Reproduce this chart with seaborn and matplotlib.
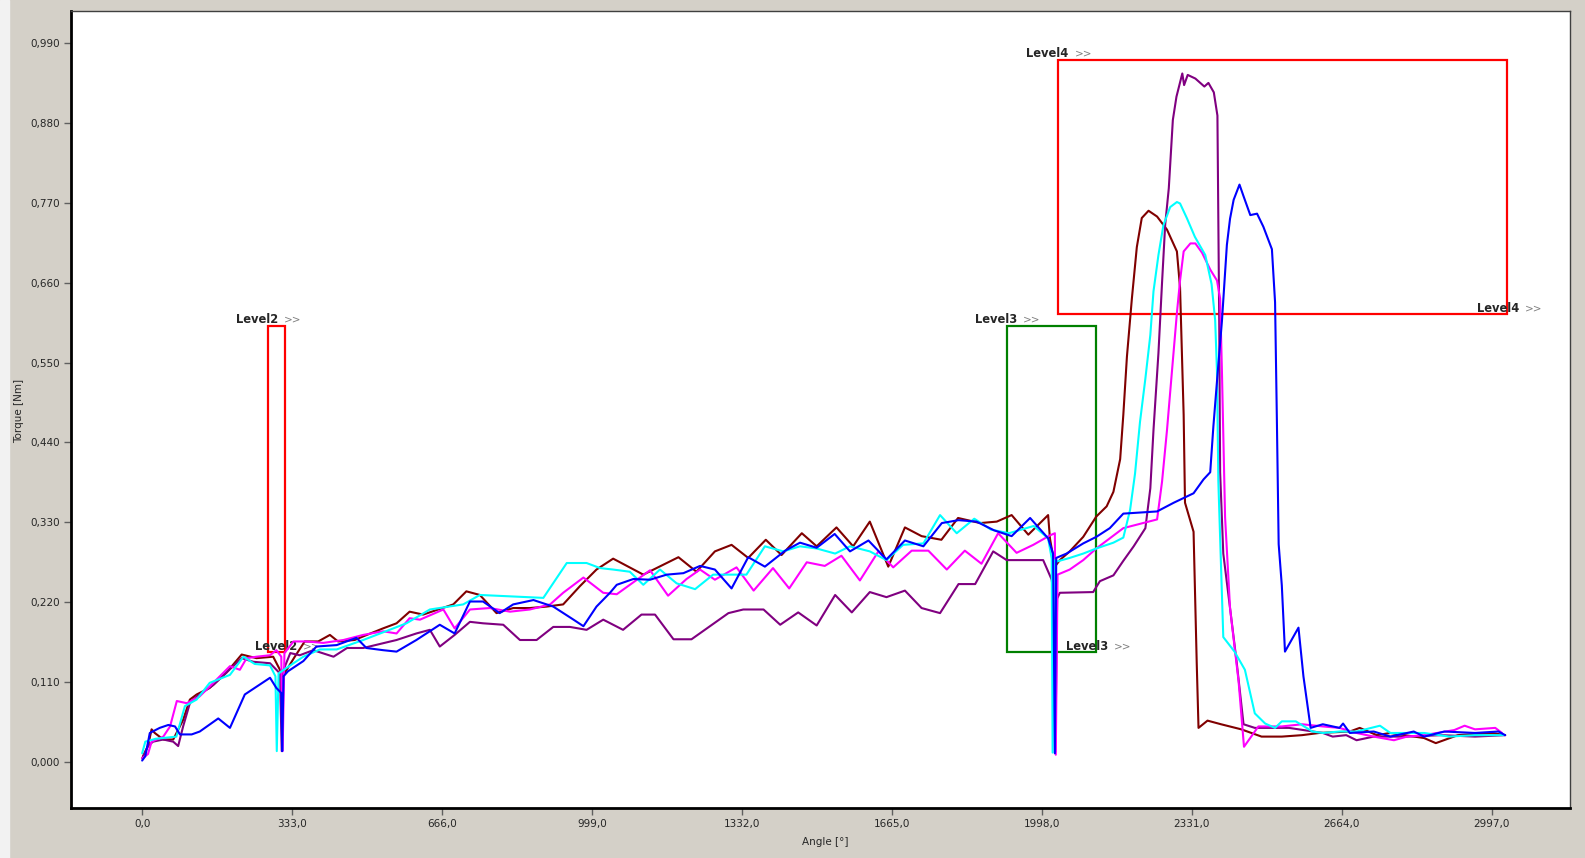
import pandas as pd
import matplotlib
matplotlib.use('Agg')
import matplotlib.pyplot as plt
import seaborn as sns
from matplotlib.ticker import MultipleLocator, FuncFormatter
from matplotlib.patches import Rectangle
from matplotlib.transforms import offset_copy

# torque curves, (angle [deg], torque [Nm])
maroon = [(2, 0.008), (13, 0.022), (21, 0.045), (28, 0.040), (47, 0.031), (69, 0.031), (91, 0.058),
          (106, 0.086), (121, 0.093), (150, 0.102), (187, 0.123), (221, 0.148), (254, 0.143), (291, 0.145),
          (306, 0.127), (312, 0.118), (339, 0.145), (361, 0.166), (391, 0.166), (417, 0.175), (435, 0.166),
          (472, 0.168), (491, 0.173), (535, 0.184), (565, 0.191), (594, 0.207), (624, 0.203), (691, 0.217),
          (720, 0.235), (750, 0.230), (787, 0.205), (824, 0.212), (861, 0.212), (898, 0.214), (935, 0.217),
          (972, 0.242), (1009, 0.265), (1046, 0.280), (1113, 0.258), (1191, 0.282), (1231, 0.262),
          (1272, 0.290), (1309, 0.299), (1346, 0.281), (1385, 0.306), (1420, 0.285), (1465, 0.315),
          (1498, 0.297), (1542, 0.323), (1579, 0.297), (1616, 0.331), (1657, 0.269), (1694, 0.323),
          (1731, 0.311), (1775, 0.306), (1812, 0.336), (1861, 0.329), (1898, 0.331), (1931, 0.340),
          (1968, 0.313), (2012, 0.340), (2016, 0.308), (2027, 0.269), (2038, 0.278), (2060, 0.290),
          (2090, 0.310), (2119, 0.338), (2142, 0.352), (2157, 0.372), (2172, 0.417), (2179, 0.478),
          (2187, 0.558), (2198, 0.638), (2209, 0.709), (2220, 0.749), (2235, 0.759), (2254, 0.751),
          (2276, 0.733), (2298, 0.703), (2305, 0.653), (2313, 0.478), (2316, 0.357), (2335, 0.317),
          (2342, 0.137), (2346, 0.047), (2366, 0.057), (2396, 0.052), (2441, 0.045), (2486, 0.035),
          (2531, 0.035), (2576, 0.037), (2614, 0.040), (2682, 0.042), (2704, 0.047), (2742, 0.037),
          (2772, 0.040), (2847, 0.033), (2873, 0.026), (2922, 0.037), (2997, 0.040), (3027, 0.037)]

purple = [(0, 0.005), (13, 0.022), (24, 0.028), (47, 0.031), (69, 0.028), (80, 0.022), (91, 0.049),
          (106, 0.081), (121, 0.090), (158, 0.106), (221, 0.143), (247, 0.138), (284, 0.136), (306, 0.122),
          (310, 0.015), (314, 0.127), (329, 0.150), (350, 0.147), (380, 0.154), (425, 0.145), (455, 0.157),
          (491, 0.157), (565, 0.168), (609, 0.177), (639, 0.182), (661, 0.159), (694, 0.175), (728, 0.193),
          (757, 0.191), (802, 0.189), (839, 0.168), (876, 0.168), (913, 0.186), (950, 0.186), (987, 0.182),
          (1024, 0.196), (1068, 0.182), (1109, 0.203), (1139, 0.203), (1180, 0.169), (1220, 0.169),
          (1261, 0.187), (1302, 0.205), (1335, 0.210), (1380, 0.210), (1417, 0.189), (1457, 0.206),
          (1498, 0.188), (1539, 0.230), (1576, 0.206), (1616, 0.234), (1653, 0.227), (1694, 0.236),
          (1731, 0.212), (1772, 0.205), (1813, 0.245), (1850, 0.245), (1890, 0.290), (1920, 0.278),
          (2001, 0.278), (2020, 0.251), (2025, 0.224), (2028, 0.014), (2032, 0.225), (2038, 0.233),
          (2112, 0.234), (2127, 0.249), (2157, 0.257), (2179, 0.277), (2202, 0.297), (2228, 0.322),
          (2239, 0.377), (2246, 0.457), (2257, 0.563), (2265, 0.660), (2272, 0.740), (2280, 0.790),
          (2289, 0.884), (2297, 0.916), (2310, 0.948), (2314, 0.932), (2322, 0.946), (2339, 0.941),
          (2359, 0.930), (2368, 0.935), (2380, 0.922), (2388, 0.890), (2392, 0.604), (2394, 0.399),
          (2401, 0.287), (2416, 0.212), (2431, 0.136), (2446, 0.052), (2471, 0.047), (2547, 0.047),
          (2622, 0.040), (2644, 0.035), (2674, 0.037), (2697, 0.030), (2735, 0.035), (2809, 0.035),
          (2885, 0.037), (2960, 0.035), (3027, 0.037)]

magenta = [(0, 0.005), (13, 0.011), (21, 0.028), (47, 0.035), (62, 0.049), (77, 0.084), (99, 0.081),
           (127, 0.090), (158, 0.109), (195, 0.132), (217, 0.127), (232, 0.143), (254, 0.145), (284, 0.147),
           (298, 0.154), (309, 0.145), (312, 0.015), (316, 0.150), (336, 0.166), (365, 0.166), (402, 0.164),
           (447, 0.168), (491, 0.175), (535, 0.180), (565, 0.177), (594, 0.198), (617, 0.196), (669, 0.210),
           (694, 0.184), (728, 0.210), (772, 0.212), (817, 0.207), (861, 0.210), (906, 0.217), (935, 0.233),
           (980, 0.254), (1024, 0.233), (1054, 0.231), (1128, 0.264), (1168, 0.229), (1209, 0.252),
           (1239, 0.265), (1272, 0.251), (1320, 0.268), (1358, 0.236), (1401, 0.267), (1437, 0.239),
           (1476, 0.275), (1516, 0.270), (1553, 0.284), (1594, 0.250), (1635, 0.290), (1668, 0.268),
           (1709, 0.291), (1746, 0.291), (1787, 0.265), (1827, 0.291), (1864, 0.273), (1901, 0.315),
           (1942, 0.288), (1979, 0.299), (2016, 0.312), (2027, 0.315), (2029, 0.010), (2033, 0.258),
           (2060, 0.265), (2090, 0.278), (2119, 0.294), (2149, 0.308), (2179, 0.322), (2254, 0.334),
           (2265, 0.386), (2276, 0.457), (2287, 0.538), (2298, 0.618), (2305, 0.663), (2313, 0.703),
           (2328, 0.714), (2339, 0.714), (2354, 0.701), (2372, 0.678), (2387, 0.663), (2394, 0.638),
           (2398, 0.538), (2405, 0.337), (2416, 0.212), (2435, 0.111), (2447, 0.021), (2479, 0.049),
           (2531, 0.049), (2576, 0.052), (2622, 0.049), (2659, 0.047), (2697, 0.040), (2735, 0.035),
           (2780, 0.030), (2809, 0.035), (2847, 0.037), (2914, 0.044), (2937, 0.050), (2960, 0.045),
           (3005, 0.047), (3020, 0.040)]

cyan = [(0, 0.012), (7, 0.028), (30, 0.032), (76, 0.035), (95, 0.077), (121, 0.086), (150, 0.109),
        (195, 0.120), (225, 0.145), (250, 0.135), (284, 0.133), (296, 0.118), (299, 0.015), (303, 0.122),
        (324, 0.131), (358, 0.145), (395, 0.155), (432, 0.155), (491, 0.168), (587, 0.191), (639, 0.210),
        (713, 0.217), (750, 0.230), (891, 0.226), (943, 0.274), (987, 0.274), (1017, 0.267), (1046, 0.265),
        (1083, 0.262), (1113, 0.244), (1150, 0.265), (1187, 0.246), (1228, 0.238), (1268, 0.258),
        (1342, 0.258), (1383, 0.297), (1424, 0.290), (1461, 0.297), (1498, 0.294), (1539, 0.287),
        (1572, 0.297), (1616, 0.290), (1653, 0.278), (1690, 0.299), (1735, 0.301), (1772, 0.340),
        (1809, 0.315), (1848, 0.335), (1885, 0.320), (1925, 0.315), (1980, 0.325), (2012, 0.308),
        (2020, 0.280), (2022, 0.013), (2025, 0.278), (2031, 0.276), (2060, 0.281), (2090, 0.287),
        (2119, 0.294), (2157, 0.302), (2179, 0.309), (2194, 0.347), (2205, 0.397), (2216, 0.468),
        (2228, 0.528), (2239, 0.588), (2246, 0.648), (2257, 0.698), (2268, 0.739), (2283, 0.764),
        (2298, 0.771), (2305, 0.769), (2320, 0.749), (2338, 0.723), (2361, 0.698), (2375, 0.658),
        (2383, 0.608), (2387, 0.538), (2390, 0.387), (2401, 0.172), (2426, 0.152), (2449, 0.127),
        (2471, 0.067), (2494, 0.053), (2516, 0.047), (2531, 0.056), (2562, 0.056), (2599, 0.042),
        (2622, 0.040), (2659, 0.042), (2697, 0.042), (2749, 0.050), (2772, 0.040), (2847, 0.040),
        (2903, 0.035), (2960, 0.037), (3023, 0.037)]

blue = [(0, 0.002), (7, 0.008), (17, 0.040), (39, 0.047), (58, 0.051), (73, 0.049), (84, 0.038),
        (110, 0.038), (128, 0.042), (169, 0.060), (195, 0.047), (228, 0.093), (284, 0.116), (298, 0.102),
        (309, 0.095), (311, 0.015), (314, 0.118), (324, 0.125), (358, 0.139), (387, 0.159), (432, 0.161),
        (476, 0.171), (498, 0.157), (535, 0.154), (565, 0.152), (609, 0.168), (661, 0.189), (694, 0.177),
        (728, 0.221), (757, 0.221), (794, 0.205), (824, 0.217), (869, 0.223), (913, 0.214), (958, 0.196),
        (980, 0.187), (1009, 0.214), (1039, 0.233), (1054, 0.244), (1091, 0.252), (1128, 0.251),
        (1165, 0.258), (1202, 0.260), (1239, 0.270), (1272, 0.265), (1309, 0.239), (1346, 0.282),
        (1383, 0.269), (1428, 0.291), (1461, 0.302), (1498, 0.295), (1538, 0.314), (1572, 0.290),
        (1613, 0.305), (1653, 0.279), (1694, 0.305), (1735, 0.297), (1776, 0.329), (1813, 0.333),
        (1853, 0.331), (1892, 0.319), (1931, 0.311), (1972, 0.336), (2012, 0.308), (2023, 0.287),
        (2027, 0.012), (2030, 0.281), (2053, 0.287), (2090, 0.301), (2119, 0.310), (2149, 0.322),
        (2179, 0.342), (2254, 0.345), (2291, 0.357), (2335, 0.370), (2357, 0.389), (2372, 0.399),
        (2379, 0.462), (2387, 0.524), (2398, 0.607), (2409, 0.712), (2416, 0.748), (2424, 0.774),
        (2437, 0.795), (2446, 0.779), (2461, 0.753), (2476, 0.755), (2490, 0.737), (2509, 0.706),
        (2516, 0.633), (2520, 0.472), (2524, 0.300), (2531, 0.243), (2538, 0.152), (2568, 0.185),
        (2579, 0.118), (2595, 0.047), (2622, 0.052), (2659, 0.047), (2667, 0.053), (2682, 0.040),
        (2735, 0.042), (2772, 0.035), (2824, 0.042), (2847, 0.035), (2892, 0.042), (2960, 0.040),
        (3012, 0.042), (3027, 0.037)]

# evaluation windows: name, angle from/to, torque from/to, colour
windows = [('Level2', 279, 317.6, 0.152, 0.600, '#ff0000'),
           ('Level3', 1920, 2118, 0.152, 0.600, '#008000'),
           ('Level4', 2035, 3030, 0.617, 0.966, '#ff0000')]

runs = {'maroon': maroon, 'purple': purple, 'magenta': magenta, 'cyan': cyan, 'blue': blue}
palette = {'maroon': '#800000', 'purple': '#800080', 'magenta': '#ff00ff', 'cyan': '#00ffff', 'blue': '#0000ff'}

rows = []
for name, pts in runs.items():
    for a, t in pts:
        rows.append((name, a, t))
df = pd.DataFrame(rows, columns=['run', 'angle', 'torque'])

sns.set_style('white')
plt.rcParams['font.family'] = ['DejaVu Sans']

W, H = 1585, 858
fig = plt.figure(figsize=(W / 100, H / 100), dpi=100, facecolor='#d4d0c8')
fig.patches.append(Rectangle((0, 0), 9 / W, 1, transform=fig.transFigure, color='#f2f2f2', zorder=0))
ax = fig.add_axes([71 / W, (H - 808) / H, (1570 - 71) / W, (808 - 11) / H])
ax.set_facecolor('white')

for name, x0, x1, y0, y1, col in windows:
    ax.add_patch(Rectangle((x0, y0), x1 - x0, y1 - y0, fill=False, edgecolor=col, lw=1.6, zorder=1))
    top = offset_copy(ax.transData, fig=fig, x=-32, y=6.5, units='dots')
    top2 = offset_copy(ax.transData, fig=fig, x=-32 + 48, y=6.5, units='dots')
    bot = offset_copy(ax.transData, fig=fig, x=-30, y=5.5, units='dots')
    bot2 = offset_copy(ax.transData, fig=fig, x=-30 + 48, y=5.5, units='dots')
    ax.text(x0, y1, name, transform=top, ha='left', va='center', fontsize=8.3, fontweight='bold', zorder=1)
    ax.text(x0, y1, '>>', transform=top2, ha='left', va='center', fontsize=7.5, color='#808080', zorder=1)
    ax.text(x1, y0, name, transform=bot, ha='left', va='center', fontsize=8.3, fontweight='bold', zorder=1)
    ax.text(x1, y0, '>>', transform=bot2, ha='left', va='center', fontsize=7.5, color='#808080', zorder=1)

sns.lineplot(data=df, x='angle', y='torque', hue='run', hue_order=list(runs), palette=palette,
             sort=False, estimator=None, lw=1.5, legend=False, ax=ax, zorder=2)

ax.set_xlim(-158, 3171)
ax.set_ylim(-0.0633, 1.034)
ax.xaxis.set_major_locator(MultipleLocator(333))
ax.xaxis.set_minor_locator(MultipleLocator(66.6))
ax.yaxis.set_major_locator(MultipleLocator(0.11))
ax.yaxis.set_minor_locator(MultipleLocator(0.022))
ax.xaxis.set_major_formatter(FuncFormatter(lambda v, p: f'{v:.1f}'.replace('.', ',')))
ax.yaxis.set_major_formatter(FuncFormatter(lambda v, p: f'{abs(v) if abs(v) < 1e-9 else v:.3f}'.replace('.', ',')))
ax.tick_params(which='both', direction='out', color='#606060', width=1, labelsize=7.5, pad=3)
ax.tick_params(which='major', length=5)
ax.tick_params(which='minor', length=3)
ax.tick_params(axis='x', bottom=True, top=False)
ax.tick_params(axis='y', left=True, right=False)

for side in ['left', 'bottom']:
    ax.spines[side].set_linewidth(2)
    ax.spines[side].set_color('black')
for side in ['top', 'right']:
    ax.spines[side].set_linewidth(1)
    ax.spines[side].set_color('#404040')

ax.set_xlabel('Angle [°]', fontsize=7.5)
ax.set_ylabel('Torque [Nm]', fontsize=7.5)
ax.xaxis.set_label_coords(0.503, -0.0364)
ax.yaxis.set_label_coords(-0.031, 0.498)

fig.savefig('out.png', dpi=100, facecolor=fig.get_facecolor())
